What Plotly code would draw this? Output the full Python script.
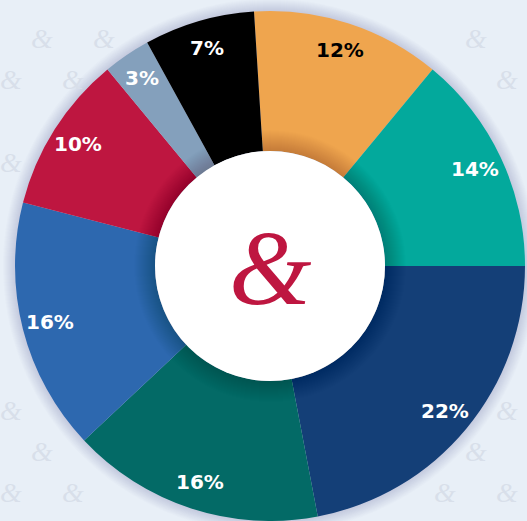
import math
import plotly.graph_objects as go

# ---- data ----
categories = ["Orange", "Teal", "Dark blue", "Dark green", "Blue", "Crimson", "Grey blue", "Black"]
values = [12, 14, 22, 16, 16, 10, 3, 7]
colors = ["#EFA54E", "#03A99C", "#143F77", "#036A66", "#2D68AF", "#BE1640", "#84A0BC", "#000000"]
label_colors = ["#000000", "#FFFFFF", "#FFFFFF", "#FFFFFF", "#FFFFFF", "#FFFFFF", "#FFFFFF", "#FFFFFF"]

W, H = 527, 521
BG = "#E8EFF7"
CX, CY = 270, 266          # pie centre in pixels (from top)
R_OUT = 255
R_IN = 115
ROTATION = -3.6

fig = go.Figure()
fig.add_trace(go.Pie(
    labels=categories, values=values, sort=False, direction="clockwise",
    rotation=ROTATION, hole=R_IN / R_OUT,
    marker=dict(colors=colors, line=dict(width=0)),
    textinfo="none", hoverinfo="label+percent", showlegend=False,
    domain=dict(x=[(CX - R_OUT) / W, (CX + R_OUT) / W],
                y=[(H - CY - R_OUT) / H, (H - CY + R_OUT) / H]),
))

def circle(r, fill, layer):
    return dict(type="circle", xref="paper", yref="paper",
                xsizemode="pixel", ysizemode="pixel",
                xanchor=CX / W, yanchor=1 - CY / H,
                x0=-r, x1=r, y0=-r, y1=r,
                fillcolor=fill, line=dict(width=0), layer=layer)

shapes = []
# soft outer shadow
for k in range(1, 13):
    shapes.append(circle(R_OUT + k, "rgba(90,105,135,0.018)", "below"))
# shadow of the centre disc on the ring
for k in range(1, 22):
    shapes.append(circle(R_IN + k, "rgba(0,0,0,0.007)", "above"))
shapes.append(circle(R_IN, "#FFFFFF", "above"))

def ann(x, y, text, font):
    return dict(x=x / W, y=1 - y / H, xref="paper", yref="paper",
                xanchor="center", yanchor="middle",
                text=text, showarrow=False, font=font)

annotations = []
# watermark pattern outside the donut
for n in range(0, 14):
    y = -3 + 41.3 * n
    x0 = 11 if n % 2 == 0 else 42
    for k in range(0, 10):
        x = x0 + 62 * k
        if x < 10 or x > W - 10 or y < 14 or y > H - 14:
            continue
        if math.hypot(x - CX, y - CY) < R_OUT + 16:
            continue
        annotations.append(ann(x, y, "&",
                               dict(family="Liberation Serif", size=28, color="#D8DFEA",
                                    style="italic")))

# percentage labels
total = sum(values)
cum = 0
for v, c in zip(values, label_colors):
    mid = ROTATION + (cum + v / 2) / total * 360
    cum += v
    a = math.radians(mid)
    r = 227
    x = CX + r * math.sin(a)
    y = CY - r * math.cos(a)
    annotations.append(ann(x, y, f"{v}%",
                           dict(family="DejaVu Sans", size=20, color=c, weight="bold")))

# centre ampersand
annotations.append(ann(CX, CY + 2, "&",
                       dict(family="Liberation Serif", size=106, color="#BE1640",
                            style="italic")))

fig.update_layout(width=W, height=H, margin=dict(l=0, r=0, t=0, b=0),
                  paper_bgcolor=BG, plot_bgcolor=BG,
                  shapes=shapes, annotations=annotations)

fig.write_html("out.html", config={"displayModeBar": False},
               post_script="document.body.style.margin='0';")
